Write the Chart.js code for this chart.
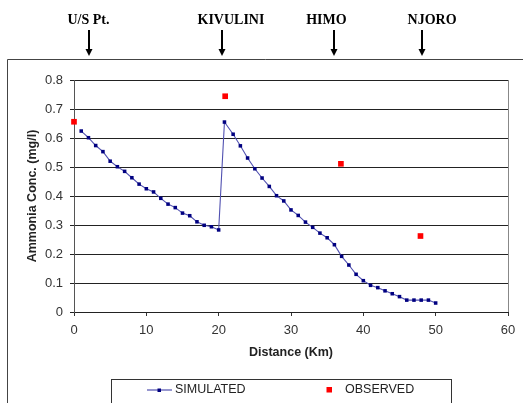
<!DOCTYPE html>
<html><head><meta charset="utf-8">
<script src="https://cdn.jsdelivr.net/npm/chart.js@4.4.0/dist/chart.umd.min.js"></script>
<style>html,body{margin:0;padding:0;background:#fff;}canvas{display:block;}</style>
</head><body>
<canvas id="c" width="523" height="403"></canvas>
<script>
// ---- data ----
const simulatedKm = [1,2,3,4,5,6,7,8,9,10,11,12,13,14,15,16,17,18,19,20,20.8,22,23,24,25,26,27,28,29,30,31,32,33,34,35,36,37,38,39,40,41,42,43,44,45,46,47,48,49,50];
const simulatedConc = [0.624,0.601,0.574,0.553,0.520,0.501,0.485,0.463,0.441,0.425,0.414,0.392,0.372,0.360,0.341,0.332,0.311,0.299,0.294,0.283,0.655,0.613,0.573,0.531,0.494,0.462,0.433,0.401,0.383,0.352,0.333,0.310,0.292,0.272,0.256,0.232,0.192,0.162,0.130,0.108,0.092,0.084,0.073,0.063,0.053,0.041,0.041,0.041,0.041,0.031];
const observedKm = [0, 20.9, 36.9, 47.9];
const observedConc = [0.656, 0.744, 0.511, 0.262];
const stationNames = ['U/S Pt.', 'KIVULINI', 'HIMO', 'NJORO'];
const stationKm = [2.1, 20.5, 35.9, 48.1];
const stationLabelKm = [2.0, 21.7, 34.9, 49.5];
const xTicks = [0, 10, 20, 30, 40, 50, 60];
const yTicks = [0, 0.1, 0.2, 0.3, 0.4, 0.5, 0.6, 0.7, 0.8];
const seriesNames = ['SIMULATED', 'OBSERVED'];

const FONT = "'Liberation Sans', Arial, sans-serif";

const decor = {
  id: 'decor',
  beforeDraw(chart) {
    const ctx = chart.ctx;
    ctx.save();
    ctx.fillStyle = '#fff';
    ctx.fillRect(0, 0, chart.width, chart.height);
    ctx.restore();
  },
  afterDraw(chart) {
    const ctx = chart.ctx;
    const a = chart.chartArea;
    const xs = chart.scales.x;
    ctx.save();
    // outer frame
    ctx.strokeStyle = '#444';
    ctx.lineWidth = 1;
    ctx.beginPath();
    ctx.moveTo(7.5, 403);
    ctx.lineTo(7.5, 59.5);
    ctx.lineTo(523, 59.5);
    ctx.stroke();
    // plot right border
    ctx.strokeStyle = '#888';
    ctx.beginPath();
    ctx.moveTo(Math.round(a.right) + 0.5, a.top);
    ctx.lineTo(Math.round(a.right) + 0.5, a.bottom);
    ctx.stroke();
    // stations
    ctx.fillStyle = '#000';
    ctx.strokeStyle = '#000';
    ctx.font = "bold 14px 'Liberation Serif', 'Times New Roman', serif";
    ctx.textAlign = 'center';
    ctx.textBaseline = 'middle';
    stationNames.forEach((n, i) => {
      const lx = xs.getPixelForValue(stationLabelKm[i]);
      ctx.fillText(n, lx, 20);
      const ax = Math.round(xs.getPixelForValue(stationKm[i]));
      ctx.lineWidth = 2;
      ctx.beginPath();
      ctx.moveTo(ax, 30);
      ctx.lineTo(ax, 50);
      ctx.stroke();
      ctx.beginPath();
      ctx.moveTo(ax - 3.5, 49);
      ctx.lineTo(ax + 3.5, 49);
      ctx.lineTo(ax, 56);
      ctx.closePath();
      ctx.fill();
    });
    // legend
    ctx.lineWidth = 1;
    ctx.strokeStyle = '#333';
    ctx.strokeRect(111.5, 379.5, 340, 40);
    const ds0 = chart.data.datasets[0], ds1 = chart.data.datasets[1];
    ctx.strokeStyle = ds0.borderColor;
    ctx.lineWidth = 1.2;
    ctx.beginPath();
    ctx.moveTo(147, 390);
    ctx.lineTo(172, 390);
    ctx.stroke();
    ctx.fillStyle = ds0.pointBackgroundColor;
    ctx.fillRect(157.5, 388.5, 3.5, 3.5);
    ctx.fillStyle = ds1.pointBackgroundColor;
    ctx.fillRect(326.5, 387, 5.5, 5.5);
    ctx.fillStyle = '#222';
    ctx.font = '12.5px ' + FONT;
    ctx.textAlign = 'left';
    ctx.fillText(ds0.label, 175, 390);
    ctx.fillText(ds1.label, 345, 390);
    ctx.restore();
  }
};

new Chart(document.getElementById('c'), {
  type: 'scatter',
  data: {
    datasets: [
      {
        label: seriesNames[0],
        data: simulatedKm.map((x, i) => ({x, y: simulatedConc[i]})),
        showLine: true,
        borderColor: '#5050b0',
        borderWidth: 1.1,
        tension: 0,
        pointStyle: 'rect',
        pointRadius: 2.5,
        pointBackgroundColor: '#000080',
        pointBorderColor: '#000080',
        pointBorderWidth: 0,
        clip: false
      },
      {
        label: seriesNames[1],
        data: observedKm.map((x, i) => ({x, y: observedConc[i]})),
        showLine: false,
        pointStyle: 'rect',
        pointRadius: 4,
        pointBackgroundColor: '#ff0000',
        pointBorderColor: '#ff0000',
        pointBorderWidth: 0,
        clip: false
      }
    ]
  },
  options: {
    responsive: false,
    animation: false,
    devicePixelRatio: 1,
    layout: { padding: { left: 0, top: 80, right: 15, bottom: 0 } },
    plugins: { legend: { display: false }, tooltip: { enabled: false } },
    scales: {
      x: {
        type: 'linear', min: 0, max: 60,
        afterBuildTicks: s => { s.ticks = xTicks.map(v => ({value: v})); },
        afterFit: s => { s.height = 91; },
        ticks: { color: '#333', font: { family: FONT, size: 13 }, padding: 7, maxRotation: 0 },
        grid: { drawOnChartArea: false, drawTicks: true, tickLength: 4, color: '#333' },
        border: { color: '#222', width: 1 },
        title: { display: true, text: 'Distance (Km)', color: '#222', font: { family: FONT, size: 12.5, weight: 'bold' }, padding: { top: 0, bottom: 43 } }
      },
      y: {
        type: 'linear', min: 0, max: 0.8,
        afterBuildTicks: s => { s.ticks = yTicks.map(v => ({value: v})); },
        afterFit: s => { s.width = 74; },
        ticks: { color: '#333', font: { family: FONT, size: 13 }, padding: 7, callback: v => String(Number(v.toFixed(1))) },
        grid: { color: '#222', lineWidth: 1, drawTicks: true, tickLength: 4 },
        border: { color: '#555', width: 1 },
        title: { display: true, text: 'Ammonia Conc. (mg/l)', color: '#222', font: { family: FONT, size: 12.5, weight: 'bold' }, padding: { top: 25, bottom: 0 } }
      }
    }
  },
  plugins: [decor]
});
</script>
</body></html>
